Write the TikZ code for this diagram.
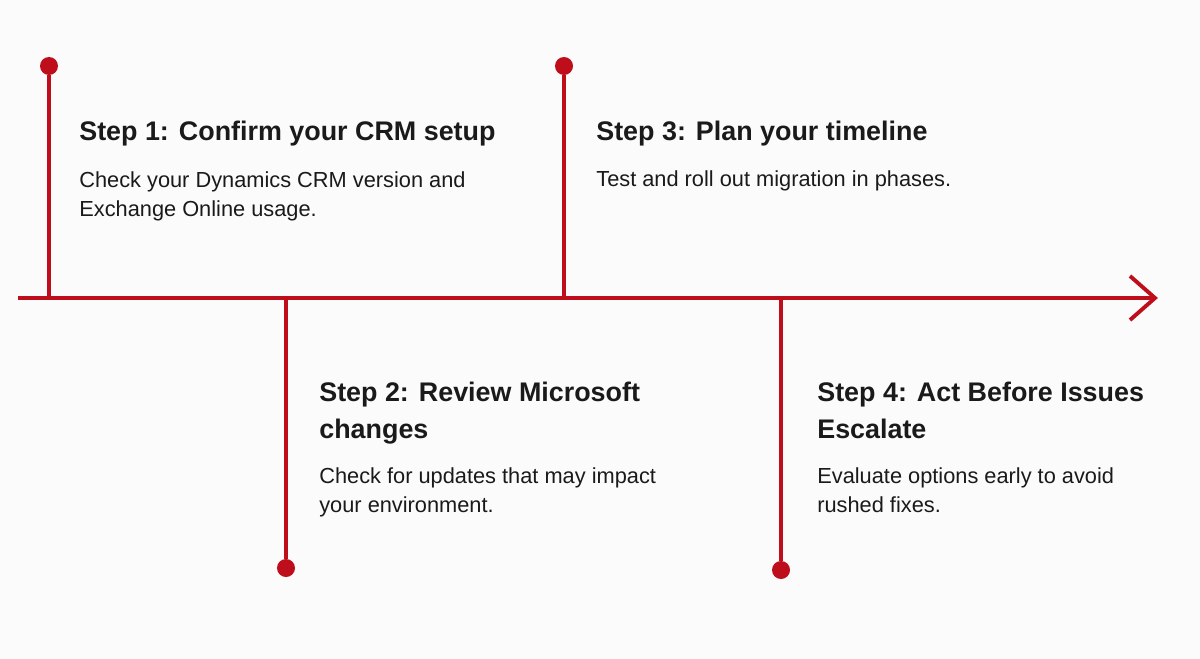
\documentclass[tikz,border=0pt]{standalone}
\usepackage{fontspec}
\setmainfont{Liberation Sans}
\definecolor{cr}{HTML}{BE0E1B}
\definecolor{bg}{HTML}{FBFBFB}
\definecolor{tx}{HTML}{1A1A1A}
\begin{document}
\begin{tikzpicture}[x=0.02cm,y=-0.02cm,
  ln/.style={draw=cr,line width=2.2pt},
  dot/.style={circle,fill=cr,minimum size=18*0.02cm,inner sep=0},
  ttl/.style={anchor=base west,inner sep=0,align=left,text=tx,font=\fontsize{15.3}{20.5}\selectfont\bfseries},
  bod/.style={anchor=base west,inner sep=0,align=left,text=tx,font=\fontsize{12.4}{16.5}\selectfont}]
\fill[bg] (0,0) rectangle (1200,659);
\useasboundingbox (0,0) rectangle (1200,659);
\coordinate (s) at (18,298);
\coordinate (e) at (1155,298);
\draw[ln] (s) -- (e);
\draw[ln,line join=miter] (1130,276) -- (e) -- (1130,320);
\node[dot] (d1) at (49,66) {};
\node[dot] (d3) at (564,66) {};
\node[dot] (d2) at (286,568) {};
\node[dot] (d4) at (781,570) {};
\coordinate (b1) at (49,298);\coordinate (b3) at (564,298);
\coordinate (b2) at (286,298);\coordinate (b4) at (781,298);
\draw[ln] (d1) -- (b1); \draw[ln] (d3) -- (b3);
\draw[ln] (d2) -- (b2); \draw[ln] (d4) -- (b4);
\node[ttl] (t1) at (79,140) {Step 1: Confirm your CRM setup};
\node[bod] (p1) at (79,216) {Check your Dynamics CRM version and\\Exchange Online usage.};
\node[ttl] (t3) at (596,140) {Step 3: Plan your timeline};
\node[bod] (p3) at (596,186) {Test and roll out migration in phases.};
\node[ttl] (t2) at (319,438) {Step 2: Review Microsoft\\changes};
\node[bod] (p2) at (319,512) {Check for updates that may impact\\your environment.};
\node[ttl] (t4) at (817,438) {Step 4: Act Before Issues\\Escalate};
\node[bod] (p4) at (817,512) {Evaluate options early to avoid\\rushed fixes.};
\end{tikzpicture}
\end{document}
